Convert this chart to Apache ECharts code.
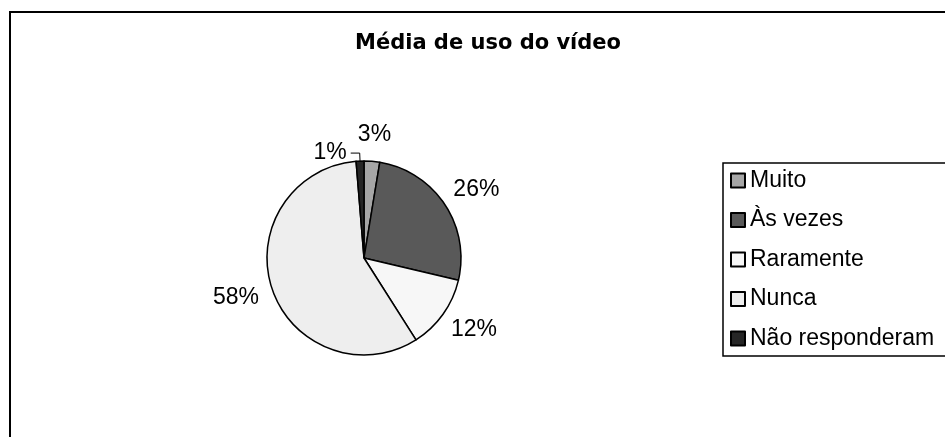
<!DOCTYPE html>
<html>
<head>
<meta charset="utf-8">
<script src="https://cdn.jsdelivr.net/npm/echarts@6/dist/echarts.min.js"></script>
<style>
  html, body { margin: 0; padding: 0; background: #fff; }
  #chart { width: 945px; height: 437px; }
</style>
</head>
<body>
<div id="chart"></div>
<script>
// dados
const categorias = ['Muito', 'Às vezes', 'Raramente', 'Nunca', 'Não responderam'];
const valores = [2.6, 26.1, 12.3, 57.7, 1.3];
const cores = ['#a6a6a6', '#595959', '#f7f7f7', '#eeeeee', '#262626'];

// geometria da pizza (px)
const CX = 364, CY = 258, R = 97, GAP = 15;
const total = valores.reduce((a, b) => a + b, 0);

var myChart = echarts.init(document.getElementById('chart'));

let dados = categorias.map((nome, i) => {
  let item = { name: nome, value: valores[i], itemStyle: { color: cores[i] } };
  if (i === 4) {
    // o 1% tem linha de chamada
    item.labelLine = { show: true, length: 8, length2: 9, smooth: false,
      lineStyle: { color: '#000', width: 1 } };
  }
  return item;
});

var option = {
  backgroundColor: '#fff',
  animation: false,
  title: {
    text: 'Média de uso do vídeo',
    left: 488,
    textAlign: 'center',
    top: 33,
    padding: 0,
    textStyle: { fontFamily: 'DejaVu Sans', fontWeight: 'bold', fontSize: 21, color: '#000' }
  },
  legend: {
    orient: 'vertical',
    left: 723,
    top: 163,
    padding: [6, 40, 6, 7],
    itemWidth: 14,
    itemHeight: 14,
    itemGap: 16.5,
    icon: 'rect',
    backgroundColor: '#fff',
    borderColor: '#000',
    borderWidth: 1.5,
    borderRadius: 0,
    selectedMode: false,
    textStyle: { fontFamily: 'Liberation Sans', fontSize: 23, color: '#000' },
    data: categorias
  },
  graphic: [{
    type: 'rect',
    shape: { x: 10, y: 12, width: 1200, height: 800 },
    style: { fill: 'none', stroke: '#000', lineWidth: 2 },
    silent: true,
    z: -10
  }],
  series: [{
    type: 'pie',
    center: [CX, CY],
    radius: R,
    startAngle: 90,
    clockwise: true,
    percentPrecision: 0,
    avoidLabelOverlap: false,
    emphasis: { disabled: true },
    itemStyle: { borderColor: '#000', borderWidth: 1.5 },
    label: {
      show: true,
      position: 'outside',
      formatter: '{d}%',
      fontFamily: 'Liberation Sans',
      fontSize: 23,
      color: '#000',
      distanceToLabelLine: 4
    },
    labelLine: { show: false, length: 10, length2: 0 },
    // rótulos na ponta externa, como no Excel
    labelLayout: function (params) {
      let i = params.dataIndex;
      if (i === 4) return {};
      let acc = 0;
      for (let k = 0; k < i; k++) acc += valores[k];
      let ang = 2 * Math.PI * (acc + valores[i] / 2) / total;
      let ux = Math.sin(ang), uy = -Math.cos(ang);
      let w = params.labelRect.width, h = params.labelRect.height;
      return {
        x: CX + (R + GAP) * ux + w / 2 * ux,
        y: CY + (R + GAP) * uy + h / 2 * uy,
        align: 'center',
        verticalAlign: 'middle'
      };
    },
    data: dados
  }]
};
myChart.setOption(option);
</script>
</body>
</html>
